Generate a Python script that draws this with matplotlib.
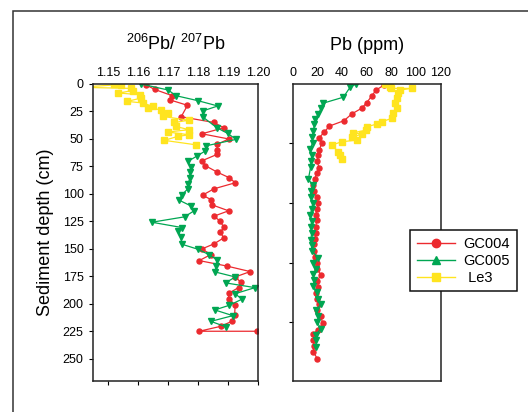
import matplotlib
matplotlib.use("Agg")
import matplotlib.pyplot as plt
from matplotlib.lines import Line2D
from matplotlib.patches import Rectangle

plt.rcParams['font.family'] = ['Liberation Sans', 'DejaVu Sans']
plt.rcParams['mathtext.fontset'] = 'custom'
plt.rcParams['mathtext.rm'] = 'Liberation Sans'

# 206Pb/207Pb ratio vs depth
gc004_ratio_depth = [1, 5, 10.6, 14.6, 19.4, 29.8, 35, 39.8, 45.3, 50, 55, 60.4, 64, 69.9, 74.4,
                     80.2, 85.4, 89.9, 95.4, 101.2, 105.4, 110, 115.4, 120.3, 124.8, 130.5, 135,
                     140, 145.5, 150.1, 155.2, 160.7, 165.6, 170.7, 175.6, 180.4, 185.3, 190.5,
                     195.6, 200.8, 210.5, 215.8, 220.5, 225, 225]
gc004_ratio = [1.1627, 1.1655, 1.1713, 1.1707, 1.1764, 1.1743, 1.1852, 1.1885, 1.1812, 1.1901,
               1.1863, 1.1863, 1.1863, 1.1812, 1.1824, 1.1863, 1.1904, 1.1923, 1.1852, 1.1814,
               1.1844, 1.1846, 1.1901, 1.1852, 1.1873, 1.1885, 1.1873, 1.1885, 1.1852, 1.1812,
               1.1842, 1.1803, 1.1894, 1.1973, 1.1923, 1.1942, 1.1934, 1.1901, 1.1901, 1.1923,
               1.1921, 1.1913, 1.1875, 1.1803, 1.1996]

gc005_ratio_depth = [0, 5.5, 10.6, 15.2, 20.0, 24.6, 29.8, 39.8, 45.0, 50.4, 56.2, 60.8, 65.3,
                     70.5, 75.3, 80.5, 85.4, 90.8, 95.4, 100.9, 105.7, 110.9, 115.4, 120.9, 125.8,
                     130.6, 133.5, 139.5, 145.8, 150.4, 155.2, 160.1, 165.6, 171.1, 175.6, 181.0,
                     185.3, 190.8, 195.9, 201.4, 205.6, 210.8, 216, 221.1]
gc005_ratio = [1.1609, 1.1700, 1.1725, 1.1799, 1.1865, 1.1814, 1.1814, 1.1862, 1.1898, 1.1926,
               1.1827, 1.1824, 1.1797, 1.1765, 1.1775, 1.1771, 1.1773, 1.1765, 1.1765, 1.1745,
               1.1736, 1.1775, 1.1786, 1.1754, 1.1645, 1.1745, 1.1733, 1.1742, 1.1745, 1.1799,
               1.1835, 1.1863, 1.1858, 1.1857, 1.1923, 1.1891, 1.1989, 1.1923, 1.1945, 1.1903,
               1.1855, 1.1915, 1.1842, 1.1893]

le3_ratio_depth = [0, 0.5, 3, 4, 6, 8.2, 9.7, 12.8, 15.8, 17.3, 20.4, 21.9, 23.4, 26.4, 29.5,
                   33.0, 35, 38.6, 41.6, 43.7, 46.2, 47.7, 51.3, 55.3]
le3_ratio = [1.1519, 1.1541, 1.140, 1.1577, 1.1582, 1.1533, 1.1604, 1.1610, 1.1563, 1.1615,
             1.1648, 1.1632, 1.1676, 1.1698, 1.1681, 1.1769, 1.1720, 1.1725, 1.1769, 1.1698,
             1.1769, 1.1731, 1.1687, 1.1791]

# Pb concentration (ppm) vs depth
gc004_pb_depth = [1, 5.5, 11, 17, 22, 27.3, 33.4, 38.3, 43.7, 48.9, 54, 60, 65, 70.5, 76, 81.4,
                  86.6, 92, 97.5, 102.7, 108, 113.6, 118.8, 124.2, 130, 135.5, 141, 146, 151.9,
                  157.7, 162.5, 168, 173.5, 179.5, 184.7, 189.9, 195.3, 200.5, 206, 211.4, 217.5,
                  223.6, 227.2, 233.3, 238.8, 244, 250]
gc004_pb = [74, 67.6, 64, 60, 56, 47.8, 41.6, 29.7, 25.7, 21.4, 23.5, 21.6, 20.8, 19.7, 21.4,
            19.5, 17.8, 16.8, 17.3, 19.5, 20.8, 20, 18.6, 19.5, 18.6, 18.6, 18.1, 17.3, 17.3,
            18.1, 20, 19.5, 22.7, 20, 20.8, 18.6, 19.5, 21.4, 20, 22.7, 24.3, 20.8, 16.8, 16.8,
            17.3, 16.8, 20]

gc005_pb_depth = [0, 3, 12, 17.6, 22, 27.3, 32, 36.5, 42.5, 48, 53.5, 59, 64.7, 70, 75.3, 86.6,
                  92, 97, 102.7, 108.7, 114, 119.4, 124.8, 130, 136, 141.6, 146.7, 151.9, 158,
                  162.8, 168, 173, 178.6, 184, 189.5, 195.3, 200.5, 206, 211.4, 216.9, 222.7,
                  228, 233.3, 239.4]
gc005_pb = [51.4, 46.5, 41.1, 24.3, 23, 20.8, 18.1, 17.6, 16.8, 15.9, 16.2, 14.1, 15.4, 14.9,
            14.6, 12.7, 16.2, 14.6, 14.6, 16.2, 15.4, 14.1, 15.4, 14.6, 15.4, 14.6, 15.4, 15.4,
            20.8, 16.8, 18.9, 16.8, 17.3, 16.8, 19.5, 20.8, 22.7, 18.9, 20.8, 20, 22.7, 18.9,
            18.9, 18.9]

le3_pb_depth = [0, 2.4, 4, 4, 5.5, 8.5, 13, 17.6, 22, 26.7, 31.3, 34.3, 36.5, 38.9, 42, 44.4,
                45.6, 48.6, 51, 52.6, 55.6, 61.7, 64.7, 68.7]
le3_pb = [75, 79, 80, 96.5, 87, 85.7, 84.3, 83, 84.9, 81.6, 80.3, 72.2, 68.1, 60, 59.5, 49.2,
          55.9, 47.8, 51.9, 39.7, 31.6, 37, 38.4, 39.7]

names = ['GC004', 'GC005', 'Le3']
colors = ['#ec2a2f', '#00a652', '#ffe41f']

fig = plt.figure(figsize=(5.28, 4.12), dpi=100)

# outer frame of the original figure
fig.patches.append(Rectangle((13 / 528, -0.1), 1.2, 1 - 11 / 412 + 0.1, transform=fig.transFigure,
                             fill=False, edgecolor='#333333', linewidth=1.1))

ax1 = fig.add_axes([92.7 / 528, 1 - 380.7 / 412, 165.6 / 528, 296.7 / 412])
ax2 = fig.add_axes([292.7 / 528, 1 - 380.7 / 412, 148 / 528, 296.7 / 412])

ax1.plot(gc004_ratio, gc004_ratio_depth, color=colors[0], marker='o', ms=3.6, lw=0.9)
ax1.plot(gc005_ratio, gc005_ratio_depth, color=colors[1], marker='v', ms=4, lw=0.9)
ax1.plot(le3_ratio, le3_ratio_depth, color=colors[2], marker='s', ms=4.5, lw=0.9)

ax2.plot(gc004_pb, gc004_pb_depth, color=colors[0], marker='o', ms=3.6, lw=0.9)
ax2.plot(gc005_pb, gc005_pb_depth, color=colors[1], marker='v', ms=4, lw=0.9)
ax2.plot(le3_pb, le3_pb_depth, color=colors[2], marker='s', ms=4.5, lw=0.9)

ax1.set_xlim(1.1448, 1.2)
ax2.set_xlim(0, 120)
for ax in (ax1, ax2):
    ax.set_ylim(270, 0)
    for s in ax.spines.values():
        s.set_linewidth(1.1)
        s.set_color('#222222')
    ax.tick_params(axis='x', top=False, labeltop=True, bottom=True, labelbottom=False,
                   direction='out', length=3, labelsize=9, pad=0.5)
    ax.tick_params(axis='y', direction='out', length=3, labelsize=9)

ax1.set_xticks([1.15, 1.16, 1.17, 1.18, 1.19, 1.20])
ax1.set_xticklabels(['1.15', '1.16', '1.17', '1.18', '1.19', '1.20'])
ax1.set_yticks(range(0, 275, 25))
ax1.set_ylabel('Sediment depth (cm)', fontsize=13, labelpad=6)

ax2.set_xticks(range(0, 121, 20))
ax2.tick_params(axis='x', bottom=False)
ax2.set_yticks([53.5, 108, 162.5, 217])
ax2.set_yticklabels([])

fig.text(176 / 528, 1 - 44 / 412, r'$\mathregular{^{206}Pb/\ ^{207}Pb}$', fontsize=13,
         ha='center', va='center')
fig.text(367 / 528, 1 - 46 / 412, 'Pb (ppm)', fontsize=13, ha='center', va='center')

handles = [Line2D([], [], color=colors[0], marker='o', ms=6, lw=1),
           Line2D([], [], color=colors[1], marker='^', ms=6, lw=1),
           Line2D([], [], color=colors[2], marker='s', ms=6, lw=1)]
leg = fig.legend(handles, ['GC004', 'GC005', ' Le3'], loc='upper left',
                 bbox_to_anchor=(403 / 528, 1 - 223 / 412), fontsize=10.5, frameon=True,
                 fancybox=False, edgecolor='#111111', framealpha=1, borderpad=0.45,
                 handlelength=2.6, labelspacing=0.2, handletextpad=0.6)
leg.get_frame().set_linewidth(1.1)

fig.savefig('out.png', dpi=100)
